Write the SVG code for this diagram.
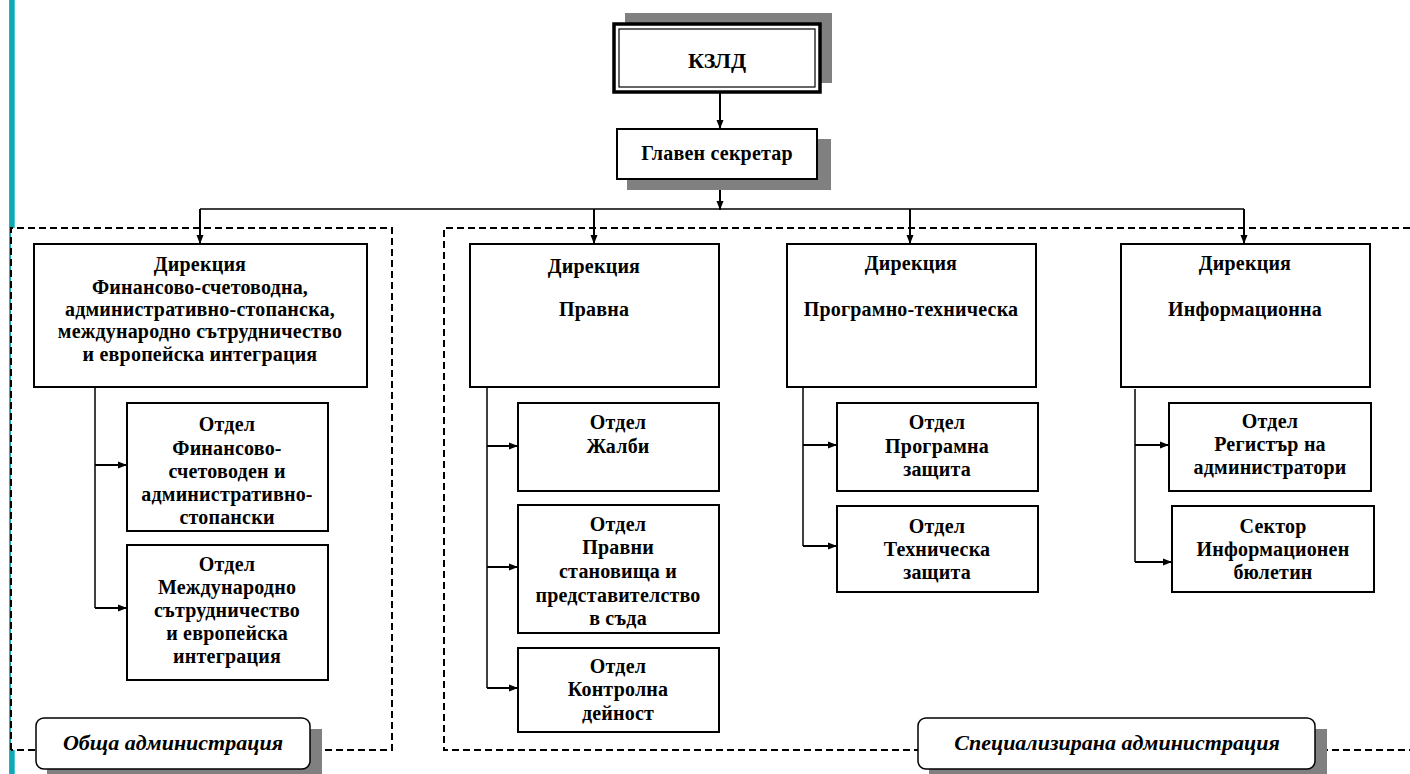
<svg xmlns="http://www.w3.org/2000/svg" width="1410" height="774" viewBox="0 0 1410 774">
<defs>
<marker id="arr" markerUnits="userSpaceOnUse" markerWidth="10" markerHeight="8" refX="9" refY="4" orient="auto">
<path d="M0,0.5 L9,4 L0,7.5 z" fill="#000"/>
</marker>
<style>
.box{fill:#fff;stroke:#000;stroke-width:2}
.sh{fill:#808080}
.t{font-weight:bold;font-size:20px;letter-spacing:0.2px;fill:#000;text-anchor:middle}
.lbl{font-weight:bold;font-style:italic;font-size:22px;fill:#000;text-anchor:middle}
.dash{stroke:#000;stroke-width:2;stroke-dasharray:7,4}
.c{fill:none;stroke:#000;stroke-width:1.5}
.ca{fill:none;stroke:#000;stroke-width:2;marker-end:url(#arr)}
</style>
</defs>
<rect width="1410" height="774" fill="#fff"/>
<!-- teal bar -->
<rect x="9" y="0" width="6" height="774" fill="#12a8b2"/>
<line x1="14.5" y1="0" x2="14.5" y2="774" stroke="#4cc9d1" stroke-width="1"/>
<line x1="9.5" y1="0" x2="9.5" y2="774" stroke="#5a9ea3" stroke-width="1"/>

<!-- dashed regions -->
<g id="regions">
<path class="dash" fill="#fff" d="M11,750 L11,228 L392,228 L392,750 L11,750"/>
<path class="dash" fill="none" d="M1410,228 L444,228 L444,750 L1410,750"/>
</g>

<!-- connectors -->
<g id="connectors">
<line class="ca" x1="720" y1="92" x2="720" y2="129"/>
<line class="ca" x1="720" y1="179" x2="720" y2="210"/>
<line class="c" x1="200" y1="209" x2="1244" y2="209"/>
<line class="ca" x1="200" y1="209" x2="200" y2="244"/>
<line class="ca" x1="594" y1="209" x2="594" y2="244"/>
<line class="ca" x1="910" y1="209" x2="910" y2="244"/>
<line class="ca" x1="1244" y1="209" x2="1244" y2="244"/>
<line class="c" x1="95" y1="387" x2="95" y2="608"/>
<line class="ca" x1="95" y1="465" x2="127" y2="465"/>
<line class="ca" x1="95" y1="608" x2="127" y2="608"/>
<line class="c" x1="487" y1="387" x2="487" y2="688"/>
<line class="ca" x1="487" y1="446" x2="518" y2="446"/>
<line class="ca" x1="487" y1="567" x2="518" y2="567"/>
<line class="ca" x1="487" y1="688" x2="518" y2="688"/>
<line class="c" x1="803" y1="387" x2="803" y2="546"/>
<line class="ca" x1="803" y1="445" x2="837" y2="445"/>
<line class="ca" x1="803" y1="546" x2="837" y2="546"/>
<line class="c" x1="1135" y1="389" x2="1135" y2="562"/>
<line class="ca" x1="1135" y1="445" x2="1169" y2="445"/>
<line class="ca" x1="1135" y1="562" x2="1172" y2="562"/>
</g>

<g font-family="Liberation Serif, Times New Roman, serif">
<g id="kzld">
<rect class="sh" x="625" y="13" width="207" height="70"/>
<rect x="614" y="24" width="206" height="68" fill="#fff" stroke="#000" stroke-width="3.5"/>
<rect x="619" y="29" width="196" height="58" fill="none" stroke="#000" stroke-width="1.2"/>
<text class="t" x="717" y="68" style="font-size:22px;letter-spacing:0">КЗЛД</text>
</g>

<g id="glaven">
<rect class="sh" x="627" y="139" width="204" height="51"/>
<rect class="box" x="617" y="129" width="200" height="50"/>
<text class="t" x="717" y="160">Главен секретар</text>
</g>

<g id="dir-fin">
<rect class="box" x="34" y="244" width="333" height="143"/>
<text class="t" x="200" y="271">Дирекция</text>
<text class="t" x="200" y="294">Финансово-счетоводна,</text>
<text class="t" x="200" y="316">административно-стопанска,</text>
<text class="t" x="200" y="338">международно сътрудничество</text>
<text class="t" x="200" y="361">и европейска интеграция</text>
</g>

<g id="otd-fin">
<rect class="box" x="127" y="403" width="201" height="128"/>
<text class="t" x="227" y="431">Отдел</text>
<text class="t" x="227" y="455">Финансово-</text>
<text class="t" x="227" y="478">счетоводен и</text>
<text class="t" x="227" y="501">административно-</text>
<text class="t" x="227" y="524">стопански</text>
</g>

<g id="otd-mezh">
<rect class="box" x="127" y="545" width="201" height="135"/>
<text class="t" x="227" y="571">Отдел</text>
<text class="t" x="227" y="594">Международно</text>
<text class="t" x="227" y="617">сътрудничество</text>
<text class="t" x="227" y="640">и европейска</text>
<text class="t" x="227" y="663">интеграция</text>
</g>

<g id="dir-pravna">
<rect class="box" x="470" y="244" width="249" height="143"/>
<text class="t" x="594" y="273">Дирекция</text>
<text class="t" x="594" y="316">Правна</text>
</g>

<g id="otd-zhalbi">
<rect class="box" x="518" y="403" width="201" height="88"/>
<text class="t" x="618" y="429">Отдел</text>
<text class="t" x="618" y="453">Жалби</text>
</g>

<g id="otd-pravni">
<rect class="box" x="518" y="505" width="201" height="128"/>
<text class="t" x="618" y="531">Отдел</text>
<text class="t" x="618" y="554">Правни</text>
<text class="t" x="618" y="578">становища и</text>
<text class="t" x="618" y="602">представителство</text>
<text class="t" x="618" y="625">в съда</text>
</g>

<g id="otd-kontrol">
<rect class="box" x="518" y="648" width="201" height="84"/>
<text class="t" x="618" y="673">Отдел</text>
<text class="t" x="618" y="696">Контролна</text>
<text class="t" x="618" y="720">дейност</text>
</g>

<g id="dir-prog">
<rect class="box" x="787" y="244" width="249" height="143"/>
<text class="t" x="911" y="270">Дирекция</text>
<text class="t" x="911" y="316">Програмно-техническа</text>
</g>

<g id="otd-prog">
<rect class="box" x="837" y="403" width="201" height="88"/>
<text class="t" x="937" y="429">Отдел</text>
<text class="t" x="937" y="453">Програмна</text>
<text class="t" x="937" y="476">защита</text>
</g>

<g id="otd-tech">
<rect class="box" x="837" y="506" width="201" height="86"/>
<text class="t" x="937" y="533">Отдел</text>
<text class="t" x="937" y="556">Техническа</text>
<text class="t" x="937" y="579">защита</text>
</g>

<g id="dir-info">
<rect class="box" x="1121" y="244" width="249" height="143"/>
<text class="t" x="1245" y="270">Дирекция</text>
<text class="t" x="1245" y="316">Информационна</text>
</g>

<g id="otd-reg">
<rect class="box" x="1169" y="403" width="202" height="88"/>
<text class="t" x="1270" y="428">Отдел</text>
<text class="t" x="1270" y="451">Регистър на</text>
<text class="t" x="1270" y="474">администратори</text>
</g>

<g id="sek-info">
<rect class="box" x="1172" y="506" width="202" height="86"/>
<text class="t" x="1273" y="533">Сектор</text>
<text class="t" x="1273" y="556">Информационен</text>
<text class="t" x="1273" y="579">бюлетин</text>
</g>

<g id="lbl-obshta">
<rect class="sh" x="47" y="729" width="275" height="51"/>
<rect x="36" y="718" width="274" height="51" rx="8" fill="#fff" stroke="#000" stroke-width="1.5"/>
<text class="lbl" x="173" y="750">Обща администрация</text>
</g>

<g id="lbl-spec">
<rect class="sh" x="929" y="729" width="398" height="51"/>
<rect x="918" y="718" width="397" height="51" rx="8" fill="#fff" stroke="#000" stroke-width="1.5"/>
<text class="lbl" x="1117" y="750">Специализирана администрация</text>
</g>
</g>
</svg>
